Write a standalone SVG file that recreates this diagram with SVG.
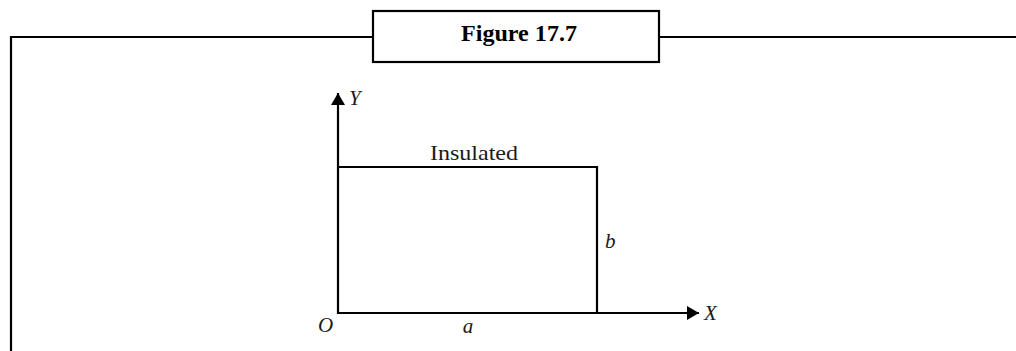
<svg xmlns="http://www.w3.org/2000/svg" width="1016" height="351" viewBox="0 0 1016 351">
<style>
.ln{fill:none;stroke:#000;stroke-width:2.2}
.lbl{font-family:"Liberation Serif",serif;font-size:21px;fill:#1a1a1a}
.it{font-style:italic}
</style>
<defs>
<marker id="ah" markerWidth="12" markerHeight="14" refX="12" refY="7" orient="auto" markerUnits="userSpaceOnUse">
<path d="M0,0 L12,7 L0,14 Z" fill="#000"/>
</marker>
</defs>
<rect width="1016" height="351" fill="#fff"/>
<g id="frame">
<path class="ln" d="M11,351 V37 H373 M659,37 H1016"/>
</g>
<g id="title">
<rect x="373" y="11" width="286" height="51" class="ln"/>
<text x="519" y="41" text-anchor="middle" font-family="'Liberation Serif',serif" font-weight="bold" font-size="23" textLength="116" lengthAdjust="spacingAndGlyphs">Figure 17.7</text>
</g>
<g id="plate">
<path class="ln" d="M338,167 H597 V313"/>
<text class="lbl" x="474" y="160" text-anchor="middle" textLength="88" lengthAdjust="spacingAndGlyphs">Insulated</text>
<text class="lbl it" x="605" y="248">b</text>
<text class="lbl it" x="468" y="333" text-anchor="middle">a</text>
<text class="lbl it" x="318" y="332">O</text>
</g>
<g id="connectors">
<line class="ln" x1="338" y1="314" x2="338" y2="93" marker-end="url(#ah)"/>
<line class="ln" x1="337" y1="313" x2="699" y2="313" marker-end="url(#ah)"/>
</g>
<g id="axis-labels">
<text class="lbl it" x="349" y="105">Y</text>
<text class="lbl it" x="704" y="320">X</text>
</g>
</svg>
